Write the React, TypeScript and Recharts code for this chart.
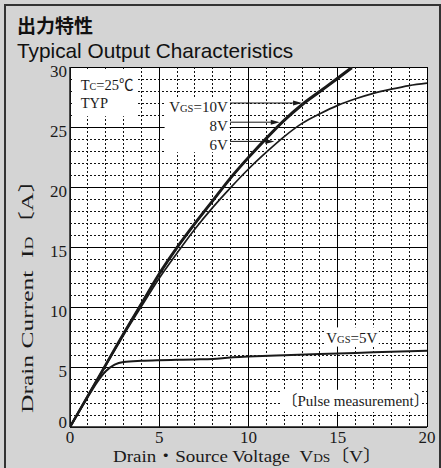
import React from 'react';
import {
  LineChart,
  Line,
  XAxis,
  YAxis,
  CartesianGrid,
  ReferenceArea,
  ReferenceLine,
} from 'recharts';

// drain-source voltage (V) / drain current (A)
const vds10 = [0, 1, 2, 3, 4, 5, 6, 7, 8, 9, 10, 11, 12, 13, 14, 15, 15.8];
const id10 = [0, 2.6, 5.2, 7.8, 10.3, 12.8, 15.0, 17.0, 18.9, 20.8, 22.5, 24.1, 25.6, 26.9, 28.0, 29.1, 30];

const vds8 = [0, 1, 2, 3, 4, 5, 6, 7, 8, 9, 10, 11, 12, 13, 14, 15, 15.8];
const id8 = [0, 2.6, 5.15, 7.75, 10.25, 12.7, 14.9, 16.9, 18.8, 20.7, 22.4, 24.0, 25.5, 26.8, 27.9, 29.0, 29.9];

const vds6 = [0, 1, 2, 3, 4, 5, 6, 7, 8, 9, 10, 11, 12, 13, 14, 15, 16, 17, 18, 19, 20];
const id6 = [0, 2.55, 5.1, 7.65, 10.05, 12.4, 14.5, 16.5, 18.3, 19.95, 21.5, 22.9, 24.2, 25.3, 26.1, 26.8, 27.35, 27.8, 28.15, 28.45, 28.65];

const vds5 = [0, 1, 1.5, 2, 2.5, 3, 4, 5, 6, 7, 8, 9, 10, 12, 14, 16, 18, 20];
const id5 = [0, 2.5, 3.7, 4.65, 5.2, 5.42, 5.52, 5.57, 5.6, 5.63, 5.67, 5.8, 5.87, 5.98, 6.08, 6.17, 6.27, 6.36];

const xTicks = [0, 5, 10, 15, 20];
const yTicks = [0, 5, 10, 15, 20, 25, 30];
const xMinor = [1, 2, 3, 4, 6, 7, 8, 9, 11, 12, 13, 14, 16, 17, 18, 19];
const yMinor = [1, 2, 3, 4, 6, 7, 8, 9, 11, 12, 13, 14, 16, 17, 18, 19, 21, 22, 23, 24, 26, 27, 28, 29];

const toPoints = (xs: number[], ys: number[]) => xs.map((v, i) => ({ v, id: ys[i] }));

const serif = "'Liberation Serif', 'Noto Sans CJK JP', serif";
const ink = '#1a1a1a';

const XTick = ({ x, y, payload }: any) => (
  <text x={x} y={y + 16} textAnchor="middle" fontFamily={serif} fontSize={17} fill={ink}>
    {payload.value}
  </text>
);

const YTick = ({ x, y, payload }: any) => (
  <text
    x={x - 3}
    y={payload.value === 0 ? y + 1 : y + 9.5}
    textAnchor="end"
    fontFamily={serif}
    fontSize={17}
    fill={ink}
  >
    {payload.value}
  </text>
);

const arrowShape = (p: any) => {
  const { x1, y1, x2, y2 } = p;
  return (
    <g>
      <line x1={x1} y1={y1} x2={x2 - 6} y2={y2} stroke={ink} strokeWidth={1} />
      <path d={`M${x2},${y2} L${x2 - 9},${y2 - 2.5} L${x2 - 9},${y2 + 2.5} Z`} fill={ink} />
    </g>
  );
};

const boxShape = (render: (x: number, y: number, w: number, h: number) => React.ReactNode) => (p: any) => (
  <g>
    <rect x={p.x} y={p.y} width={p.width} height={p.height} fill="#fff" />
    {render(p.x, p.y, p.width, p.height)}
  </g>
);

const tcBox = boxShape((x, y) => (
  <g fontFamily={serif} fontSize={14.5} fill={ink}>
    <text x={x + 8} y={y + 20.5}>
      T<tspan fontSize={10}>C</tspan>=25℃
    </text>
    <text x={x + 8} y={y + 38.5}>TYP</text>
  </g>
));

const vgsBox = boxShape((x, y, w) => (
  <g fontFamily={serif} fontSize={15} fill={ink} textAnchor="end">
    <text x={x + w - 2} y={y + 15}>
      V<tspan fontSize={10.5}>GS</tspan>=10V
    </text>
    <text x={x + w - 2} y={y + 34}>8V</text>
    <text x={x + w - 2} y={y + 53}>6V</text>
  </g>
));

const vgs5Box = boxShape((x, y) => (
  <text x={x + 1} y={y + 15.5} fontFamily={serif} fontSize={15} fill={ink}>
    V<tspan fontSize={10.5}>GS</tspan>=5V
  </text>
));

const pulseBox = boxShape((x, y) => (
  <text x={x + 1} y={y + 16} fontFamily={serif} fontSize={15} fill={ink}>
    〔Pulse measurement〕
  </text>
));

export default function App() {
  return (
    <div
      style={{
        position: 'absolute',
        left: 0,
        top: 0,
        width: 441,
        height: 468,
        background: '#d4d4d4',
        overflow: 'hidden',
      }}
    >
      <div
        style={{
          position: 'absolute',
          left: 4,
          top: 4,
          width: 437,
          height: 480,
          border: '2px solid #333',
          boxSizing: 'border-box',
        }}
      />
      <div style={{ position: 'absolute', left: 0, top: 0 }}>
        <LineChart width={441} height={468} margin={{ top: 67, right: 14, bottom: 0, left: 0 }}>
          <CartesianGrid fill="#fff" stroke="#000" strokeWidth={1} shapeRendering="crispEdges" />
          <CartesianGrid
            fill="none"
            verticalValues={xMinor}
            horizontalValues={yMinor}
            stroke="#111"
            strokeDasharray="2 2"
            strokeWidth={1}
            shapeRendering="crispEdges"
          />
          <XAxis
            type="number"
            dataKey="v"
            domain={[0, 20]}
            ticks={xTicks}
            interval={0}
            allowDataOverflow
            height={41}
            tickLine={false}
            tickSize={0}
            tickMargin={0}
            axisLine={{ stroke: ink, strokeWidth: 1.5 }}
            tick={<XTick />}
          />
          <YAxis
            type="number"
            domain={[0, 30]}
            ticks={yTicks}
            interval={0}
            allowDataOverflow
            width={70}
            tickLine={false}
            tickSize={0}
            tickMargin={0}
            axisLine={{ stroke: ink, strokeWidth: 1.5 }}
            tick={<YTick />}
          />

          <ReferenceArea x1={0.15} x2={3.8} y1={25.9} y2={29.8} shape={tcBox} />
          <ReferenceArea x1={5.3} x2={8.95} y1={22.9} y2={27.5} shape={vgsBox} />
          <ReferenceArea x1={14.3} x2={17.3} y1={6.7} y2={8.3} shape={vgs5Box} />
          <ReferenceArea x1={11.85} x2={19.65} y1={1.25} y2={3.1} shape={pulseBox} />

          <Line data={toPoints(vds6, id6)} dataKey="id" type="monotone" stroke={ink} strokeWidth={1.7} dot={false} isAnimationActive={false} />
          <Line data={toPoints(vds5, id5)} dataKey="id" type="monotone" stroke={ink} strokeWidth={2} dot={false} isAnimationActive={false} />
          <Line data={toPoints(vds8, id8)} dataKey="id" type="monotone" stroke={ink} strokeWidth={2} dot={false} isAnimationActive={false} />
          <Line data={toPoints(vds10, id10)} dataKey="id" type="monotone" stroke={ink} strokeWidth={2.4} dot={false} isAnimationActive={false} />

          <ReferenceLine segment={[{ x: 8.97, y: 27.0 }, { x: 13.0, y: 27.0 }]} shape={arrowShape} />
          <ReferenceLine segment={[{ x: 8.97, y: 25.4 }, { x: 11.75, y: 25.4 }]} shape={arrowShape} />
          <ReferenceLine segment={[{ x: 8.97, y: 23.8 }, { x: 11.45, y: 23.8 }]} shape={arrowShape} />
        </LineChart>
      </div>
      <svg width={441} height={468} style={{ position: 'absolute', left: 0, top: 0, pointerEvents: 'none' }}>
        <text x={17} y={33} fontFamily="'Noto Sans CJK JP', sans-serif" fontWeight={700} fontSize={19} fill="#111">
          出力特性
        </text>
        <text x={17} y={58} fontFamily="'Liberation Sans', Arial, sans-serif" fontSize={20.8} fill="#111">
          Typical Output Characteristics
        </text>
        <text
          x={247.5}
          y={462}
          textAnchor="middle"
          fontFamily={serif}
          fontSize={17}
          fill={ink}
          textLength={269}
          lengthAdjust="spacingAndGlyphs"
        >
          Drain・Source Voltage{'\u00a0\u00a0'}V<tspan fontSize={12}>DS</tspan>〔V〕
        </text>
        <text
          transform="translate(33,290) rotate(-90)"
          textAnchor="middle"
          fontFamily={serif}
          fontSize={17}
          fill={ink}
          textLength={246}
          lengthAdjust="spacingAndGlyphs"
        >
          Drain Current{'\u00a0\u00a0'}I<tspan fontSize={12}>D</tspan>〔A〕
        </text>
      </svg>
    </div>
  );
}
